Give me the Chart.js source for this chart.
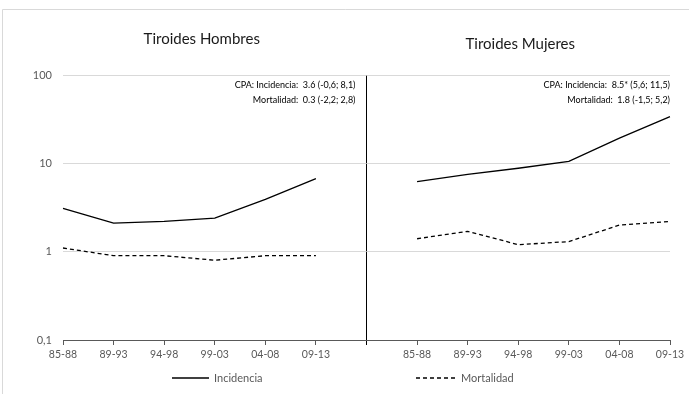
<!DOCTYPE html>
<html>
<head>
<meta charset="utf-8">
<script src="https://cdn.jsdelivr.net/npm/chart.js@4"></script>
<style>
  html, body { margin: 0; padding: 0; background: #fff; }
  #wrap { width: 689px; height: 394px; }
</style>
</head>
<body>
<div id="wrap"><canvas id="chart" width="689" height="394"></canvas></div>
<script>
// periodos (se repiten para hombres y mujeres)
var periods = ['85-88', '89-93', '94-98', '99-03', '04-08', '09-13'];
var incHombres = [3.1, 2.1, 2.2, 2.4, 3.9, 6.7];
var mortHombres = [1.1, 0.9, 0.9, 0.8, 0.9, 0.9];
var incMujeres = [6.2, 7.5, 8.8, 10.5, 19.3, 33.8];
var mortMujeres = [1.4, 1.7, 1.2, 1.3, 2.0, 2.2];
var yTicks = [0.1, 1, 10, 100];
var titles = ['Tiroides Hombres', 'Tiroides Mujeres'];
var cpaHombres = ['CPA: Incidencia:  3.6 (-0,6; 8,1)', 'Mortalidad:  0.3 (-2,2; 2,8)'];
var cpaMujeres = ['CPA: Incidencia:  8.5* (5,6; 11,5)', 'Mortalidad:  1.8 (-1,5; 5,2)'];

var FONT = 'Lato, "Open Sans", sans-serif';
var labels = periods.concat([''], periods);
var incData = incHombres.concat([null], incMujeres);
var mortData = mortHombres.concat([null], mortMujeres);

var decor = {
  id: 'decor',
  beforeDraw: function(chart){
    var c = chart.ctx;
    c.save();
    c.fillStyle = '#fff';
    c.fillRect(0, 0, chart.width, chart.height);
    c.strokeStyle = '#d9d9d9';
    c.lineWidth = 1;
    c.beginPath();
    c.moveTo(2.5, chart.height);
    c.lineTo(2.5, 9.5);
    c.lineTo(chart.width, 9.5);
    c.stroke();
    c.restore();
  },
  afterDraw: function(chart){
    var c = chart.ctx;
    var xs = chart.scales.x;
    var left = xs.getPixelForValue(0), mid = xs.getPixelForValue(6), right = xs.getPixelForValue(12);
    c.save();
    // titulos
    c.fillStyle = '#1a1a1a';
    c.font = '15px ' + FONT;
    c.textAlign = 'center';
    c.textBaseline = 'middle';
    c.fillText(titles[0], (left + mid) / 2 - 13, 39);
    c.fillText(titles[1], (mid + right) / 2 + 2, 44);
    // CPA
    c.font = '9px ' + FONT;
    c.textAlign = 'right';
    c.fillStyle = '#000';
    c.fillText(cpaHombres[0], mid - 11, 85);
    c.fillText(cpaHombres[1], mid - 11, 100);
    c.fillText(cpaMujeres[0], right, 85);
    c.fillText(cpaMujeres[1], right, 100);
    // leyenda
    var ly = 378;
    c.strokeStyle = '#000';
    c.lineWidth = 1.3;
    c.beginPath();
    c.moveTo(172, ly); c.lineTo(209, ly);
    c.stroke();
    c.setLineDash([4, 3]);
    c.beginPath();
    c.moveTo(416, ly); c.lineTo(456, ly);
    c.stroke();
    c.setLineDash([]);
    c.font = '11px ' + FONT;
    c.textAlign = 'left';
    c.fillStyle = '#595959';
    c.fillText('Incidencia', 214, ly);
    c.fillText('Mortalidad', 461, ly);
    c.restore();
  }
};

var canvas = document.getElementById('chart');
new Chart(canvas, {
  type: 'line',
  data: {
    labels: labels,
    datasets: [
      {
        label: 'Incidencia',
        data: incData,
        borderColor: '#000',
        borderWidth: 1.3,
        pointRadius: 0,
        tension: 0,
        spanGaps: false
      },
      {
        label: 'Mortalidad',
        data: mortData,
        borderColor: '#000',
        borderWidth: 1.3,
        borderDash: [4, 3],
        pointRadius: 0,
        tension: 0,
        spanGaps: false
      }
    ]
  },
  options: {
    responsive: false,
    animation: false,
    layout: { padding: { left: 0, right: 19, top: 75, bottom: 0 } },
    plugins: {
      legend: { display: false },
      tooltip: { enabled: false }
    },
    scales: {
      x: {
        type: 'category',
        offset: false,
        grid: {
          offset: false,
          drawOnChartArea: true,
          color: function(ctx){ return ctx.index === 6 ? '#000' : 'rgba(0,0,0,0)'; },
          tickColor: function(ctx){ return ctx.index === 6 ? '#000' : '#595959'; },
          tickLength: 5,
          lineWidth: 1
        },
        border: { display: true, color: '#595959', width: 1 },
        ticks: {
          autoSkip: false,
          maxRotation: 0,
          color: '#595959',
          font: { family: FONT, size: 10.5 },
          padding: 3
        },
        afterFit: function(scale){ scale.height = 54; }
      },
      y: {
        type: 'logarithmic',
        min: 0.1,
        max: 100,
        afterBuildTicks: function(axis){
          axis.ticks = yTicks.map(function(v){ return { value: v }; });
        },
        grid: {
          color: function(ctx){ return ctx.tick && ctx.tick.value === 0.1 ? 'rgba(0,0,0,0)' : '#d9d9d9'; },
          drawTicks: false,
          lineWidth: 1
        },
        border: { display: false },
        ticks: {
          color: '#595959',
          font: { family: FONT, size: 11 },
          padding: 11,
          callback: function(v){ return v === 0.1 ? '0,1' : String(v); }
        },
        afterFit: function(scale){ scale.width = 63; }
      }
    }
  },
  plugins: [decor]
});
</script>
</body>
</html>
